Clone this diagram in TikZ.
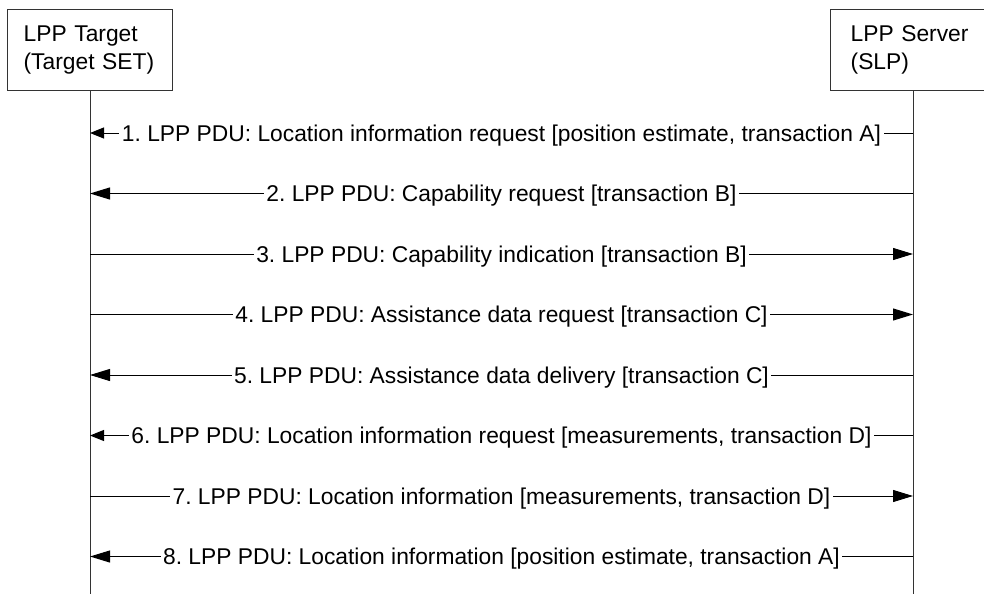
\documentclass[tikz,border=0pt]{standalone}
\usepackage{fontspec}
\setmainfont{Liberation Sans}
\usepackage{tikz}
\usetikzlibrary{arrows.meta,positioning}
\newcommand{\lppfont}{\fontsize{22.8}{28}\selectfont\frenchspacing}

\begin{document}
\begin{tikzpicture}[x=1pt, y=-1pt, font=\lppfont,
  entity/.style={draw=black!80, line width=1pt, align=left, minimum height=80.5pt, inner ysep=0pt},
  lifeline/.style={draw=black!80, line width=1pt},
  msg/.style={-{Triangle[length=20pt, width=12pt]}, line width=1pt},
  msgshort/.style={-{Triangle[length=14pt, width=11pt]}, line width=1pt},
  lbl/.style={fill=white, inner xsep=2.5pt, inner ysep=0pt, text height=16pt, text depth=0pt}
]
\useasboundingbox (0,0) rectangle (984,594);
% entities
\node[entity, text width=132.7pt, inner xsep=16pt] (tgt) at (90,49.75) {LPP Target\\(Target SET)};
\node[entity, text width=124.7pt, inner xsep=20pt] (srv) at (913,49.75) {LPP Server\\(SLP)};
% lifelines down to the bottom edge
\coordinate (tgtEnd) at (90,594);
\coordinate (srvEnd) at (913,594);
\draw[lifeline] (tgt.south) -- (tgtEnd);
\draw[lifeline] (srv.south) -- (srvEnd);
% message rows, y positions from top
\def\yA{133} \def\yB{193.5} \def\yC{254} \def\yD{314.5}
\def\yE{375} \def\yF{435.5} \def\yG{496} \def\yH{556.5}
\coordinate (t1) at (90,\yA); \coordinate (s1) at (913,\yA);
\coordinate (t2) at (90,\yB); \coordinate (s2) at (913,\yB);
\coordinate (t3) at (90,\yC); \coordinate (s3) at (913,\yC);
\coordinate (t4) at (90,\yD); \coordinate (s4) at (913,\yD);
\coordinate (t5) at (90,\yE); \coordinate (s5) at (913,\yE);
\coordinate (t6) at (90,\yF); \coordinate (s6) at (913,\yF);
\coordinate (t7) at (90,\yG); \coordinate (s7) at (913,\yG);
\coordinate (t8) at (90,\yH); \coordinate (s8) at (913,\yH);
% messages
\draw[msgshort] (s1) -- node[lbl] (m1) {1. LPP PDU: Location information request [position estimate, transaction A]} (t1);
\draw[msg] (s2) -- node[lbl] (m2) {2. LPP PDU: Capability request [transaction B]} (t2);
\draw[msg] (t3) -- node[lbl] (m3) {3. LPP PDU: Capability indication [transaction B]} (s3);
\draw[msg] (t4) -- node[lbl] (m4) {4. LPP PDU: Assistance data request [transaction C]} (s4);
\draw[msg] (s5) -- node[lbl] (m5) {5. LPP PDU: Assistance data delivery [transaction C]} (t5);
\draw[msgshort] (s6) -- node[lbl] (m6) {6. LPP PDU: Location information request [measurements, transaction D]} (t6);
\draw[msg] (t7) -- node[lbl] (m7) {7. LPP PDU: Location information [measurements, transaction D]} (s7);
\draw[msg] (s8) -- node[lbl] (m8) {8. LPP PDU: Location information [position estimate, transaction A]} (t8);
\end{tikzpicture}
\end{document}
